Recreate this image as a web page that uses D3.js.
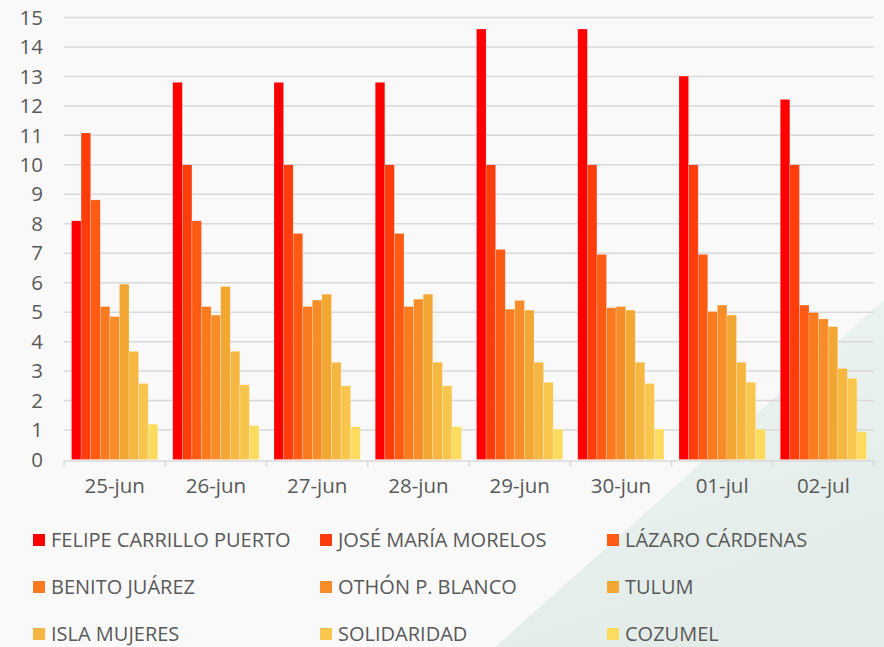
<!DOCTYPE html>
<html>
<head>
<meta charset="utf-8">
<script src="https://cdn.jsdelivr.net/npm/d3@7"></script>
<style>
  html, body { margin: 0; padding: 0; background: #f9f9f9; }
  svg { display: block; font-family: "Open Sans", Lato, sans-serif; }
</style>
</head>
<body>
<script>
const days = ['25-jun', '26-jun', '27-jun', '28-jun', '29-jun', '30-jun', '01-jul', '02-jul']

const municipios = [
  'FELIPE CARRILLO PUERTO', 'JOSÉ MARÍA MORELOS', 'LÁZARO CÁRDENAS',
  'BENITO JUÁREZ', 'OTHÓN P. BLANCO', 'TULUM',
  'ISLA MUJERES', 'SOLIDARIDAD', 'COZUMEL'
]

const colors = [
  '#ff0000', '#fe3d0c', '#fd5a14', '#fa7a20', '#f78d28',
  '#f1a731', '#f5b741', '#f8c54d', '#fbdc5f'
]

// one array per municipio, one value per day
const felipe = [8.10, 12.80, 12.80, 12.80, 14.61, 14.61, 13.01, 12.22]
const jose = [11.08, 10.0, 10.0, 10.0, 10.0, 10.0, 10.0, 10.0]
const lazaro = [8.81, 8.10, 7.67, 7.67, 7.13, 6.96, 6.96, 5.24]
const benito = [5.19, 5.19, 5.19, 5.19, 5.10, 5.15, 5.02, 4.99]
const othon = [4.85, 4.90, 5.41, 5.44, 5.40, 5.19, 5.24, 4.77]
const tulum = [5.95, 5.87, 5.61, 5.61, 5.07, 5.07, 4.90, 4.51]
const isla = [3.67, 3.67, 3.30, 3.30, 3.30, 3.30, 3.30, 3.09]
const solidaridad = [2.58, 2.54, 2.50, 2.50, 2.62, 2.58, 2.62, 2.75]
const cozumel = [1.20, 1.15, 1.11, 1.11, 1.03, 1.03, 1.03, 0.94]

const series = [felipe, jose, lazaro, benito, othon, tulum, isla, solidaridad, cozumel]
const yTicks = d3.range(0, 16)

const W = 884
const H = 647

function main () {
  const svg = d3.select('body')
    .append('svg')
    .attr('width', W)
    .attr('height', H)

  svg.append('rect')
    .attr('width', W)
    .attr('height', H)
    .attr('fill', '#f9f9f9')

  // pale green corner of the slide background
  const grad = svg.append('defs').append('linearGradient')
    .attr('id', 'corner')
    .attr('x1', 0).attr('y1', 0).attr('x2', 0.4).attr('y2', 1)
  grad.append('stop').attr('offset', '0%').attr('stop-color', '#ecf6f2')
  grad.append('stop').attr('offset', '100%').attr('stop-color', '#e4ece9')

  svg.append('path')
    .attr('d', `M${W},300 L${W},${H} L495,${H} Z`)
    .attr('fill', 'url(#corner)')

  const x0 = d3.scaleBand()
    .domain(days)
    .range([64, 874])

  const x1 = d3.scaleBand()
    .domain(d3.range(municipios.length))
    .range([7.5, x0.step() - 7.5])

  const y = d3.scaleLinear()
    .domain([0, 15])
    .range([459.5, 17.5])

  // gridlines
  svg.append('g')
    .selectAll('line')
    .data(yTicks.filter(d => d > 0))
    .join('line')
    .attr('x1', 64)
    .attr('x2', 874)
    .attr('y1', d => y(d))
    .attr('y2', d => y(d))
    .attr('stroke', '#d9d9d9')
    .attr('stroke-width', 1.5)

  // y labels
  svg.append('g')
    .selectAll('text')
    .data(yTicks)
    .join('text')
    .attr('x', 43)
    .attr('y', d => y(d))
    .attr('dy', '0.35em')
    .attr('text-anchor', 'end')
    .attr('font-size', 20.5)
    .attr('fill', '#595959')
    .text(d => d)

  // bars
  const groups = svg.append('g')
    .selectAll('g')
    .data(days)
    .join('g')
    .attr('transform', d => `translate(${x0(d)},0)`)

  groups.selectAll('rect')
    .data((d, i) => series.map((s, k) => ({ k, v: s[i] })))
    .join('rect')
    .attr('x', d => x1(d.k))
    .attr('width', x1.bandwidth())
    .attr('y', d => y(d.v))
    .attr('height', d => y(0) - y(d.v))
    .attr('fill', d => colors[d.k])
    .attr('stroke', 'rgba(255,255,255,0.35)')
    .attr('stroke-width', 0.6)

  // x axis
  const xAxis = svg.append('g')
    .attr('transform', `translate(0,${y(0) + 1})`)
    .call(d3.axisBottom(x0).tickSize(0).tickPadding(18))

  xAxis.select('.domain')
    .attr('stroke', '#d9d9d9')
    .attr('stroke-width', 1.5)

  xAxis.selectAll('text')
    .attr('font-size', 20.5)
    .attr('font-family', '"Open Sans", Lato, sans-serif')
    .attr('fill', '#595959')

  svg.append('g')
    .selectAll('line')
    .data(days.concat(['end']))
    .join('line')
    .attr('x1', (d, i) => 64 + i * x0.step())
    .attr('x2', (d, i) => 64 + i * x0.step())
    .attr('y1', y(0) + 1)
    .attr('y2', y(0) + 7)
    .attr('stroke', '#d9d9d9')
    .attr('stroke-width', 1.5)

  // legend
  const cols = [33, 320, 607]
  const rows = [540, 587, 634]

  const items = svg.append('g')
    .selectAll('g')
    .data(municipios)
    .join('g')
    .attr('transform', (d, i) => `translate(${cols[i % 3]},${rows[Math.floor(i / 3)]})`)

  items.append('rect')
    .attr('x', 0)
    .attr('y', -6)
    .attr('width', 12)
    .attr('height', 12)
    .attr('fill', (d, i) => colors[i])

  items.append('text')
    .attr('x', 18)
    .attr('dy', '0.35em')
    .attr('font-size', 20)
    .attr('fill', '#595959')
    .text(d => d)
}

main()
</script>
</body>
</html>
